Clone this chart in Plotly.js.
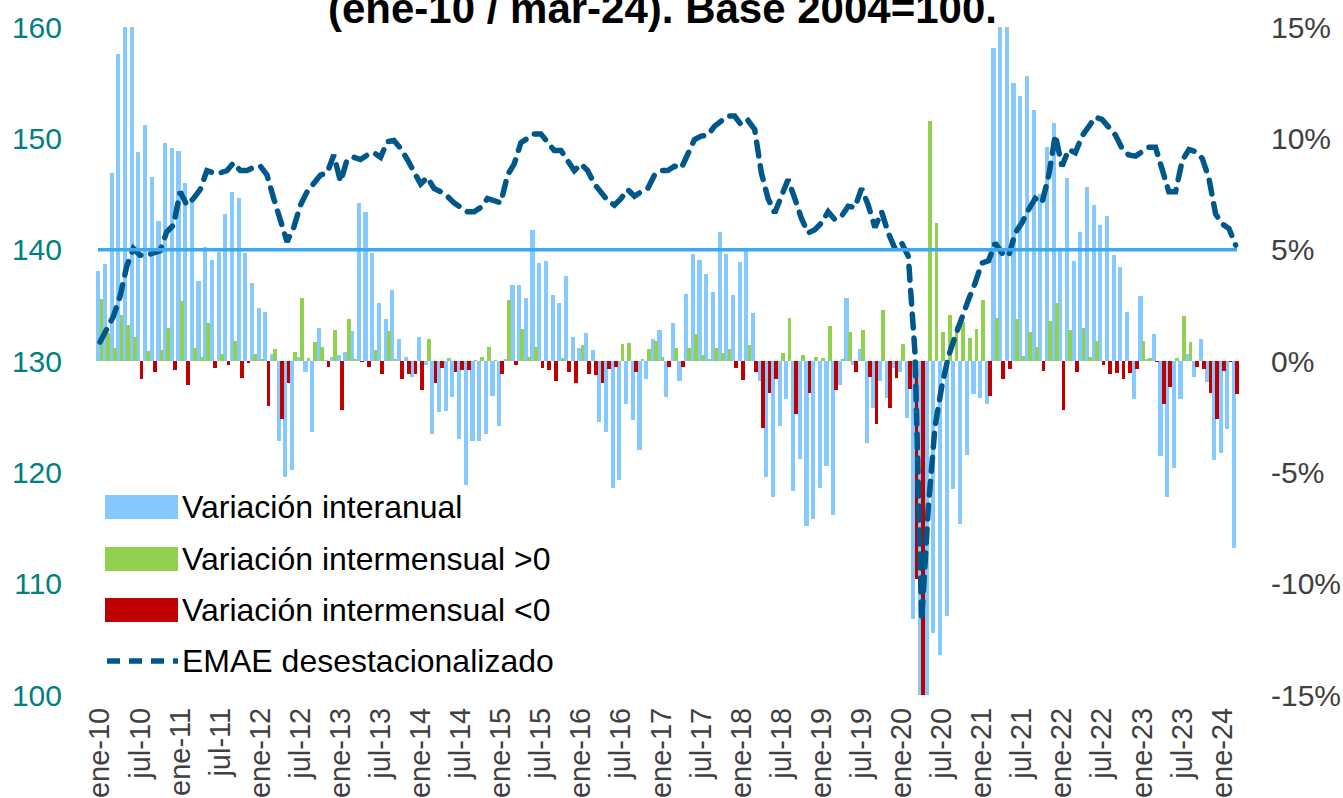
<!DOCTYPE html>
<html><head><meta charset="utf-8">
<script src="https://cdn.plot.ly/plotly-3.0.1.min.js"></script>
<style>
html,body{margin:0;padding:0;background:#fff;}
#chart{width:1343px;height:798px;}
#chart .scatterlayer .js-line{stroke-linecap:round;}
</style></head><body><div id="chart"></div>
<script>
// Variación interanual (%), ene-10 ... mar-24
const varInteranual = [
 4.06, 4.36, 8.46, 13.8, 17.0, 16.5, 9.4, 10.6, 8.26, 6.3,
 9.77, 9.57, 9.43, 8.0, 7.3, 3.6, 5.1, 4.55, 4.9, 6.6,
 7.6, 7.3, 4.85, 3.5, 2.36, 2.2, 0.3, -3.6, -5.2, -4.9,
 0.2, -0.5, -3.2, 1.5, 0.05, 0.2, 0.25, 0.4, 1.35, 7.1,
 6.7, 4.85, 2.6, 1.9, 3.2, 1.0, 0.2, -0.7, 1.1, -0.2,
 -3.3, -2.3, -2.25, -1.6, -3.5, -5.55, -3.6, -3.6, -3.3, -1.55,
 -2.9, 0.1, 3.4, 3.4, 2.85, 5.9, 4.4, 4.5, 2.95, 2.6,
 3.8, 1.1, 0.6, 1.25, 0.5, -2.75, -3.2, -5.7, -5.35, -1.95,
 -2.65, -4.0, -0.8, 1.0, 1.4, -1.6, 1.7, -0.9, 3.0, 4.8,
 4.55, 3.9, 3.1, 5.8, 4.8, 2.95, 4.45, 4.95, 2.15, -0.9,
 -5.2, -6.1, -2.9, -1.7, -5.85, -4.4, -7.4, -7.1, -5.7, -4.7,
 -6.9, -1.1, 2.85, -0.2, 0.55, -3.7, -2.1, -0.9, -1.65, -0.3,
 -0.5, -2.55, -11.6, -25.5, -20.5, -12.2, -13.2, -11.45, -5.76, -7.3,
 -4.2, -1.47, -1.65, -1.95, 14.07, 29.0, 15.5, 12.5, 11.9, 12.8,
 11.26, 7.5, 9.6, 10.7, 4.95, 8.2, 4.5, 5.8, 7.8, 7.0,
 6.1, 6.5, 4.75, 4.2, 2.2, -1.7, 2.9, 0.1, 1.2, -4.25,
 -6.1, -4.8, -1.7, 0.3, -0.72, 1.0, -0.95, -4.45, -4.12, -3.05, -8.4
];
// Variación intermensual (%)
const varIntermensual = [
 2.8, 1.27, 0.6, 2.05, 1.6, 1.1, -0.8, 0.45, -0.5, 0.5,
 1.5, -0.4, 2.7, -1.1, 0.6, 0.2, 1.7, -0.3, 0.3, -0.2,
 0.9, -0.75, -0.1, 0.3, 0.1, -2.0, 0.55, -2.6, -1.0, 0.4,
 2.85, 0.15, 0.85, 0.65, -0.25, 1.4, -2.2, 1.9, 0.1, -0.05,
 -0.25, 0.5, -0.6, 1.35, 0.1, -0.8, -0.6, -0.6, -1.3, 0.97,
 -1.0, -0.33, 0.15, -0.5, -0.4, -0.4, 0.05, 0.2, 0.65, 0.05,
 -0.6, 2.75, -0.2, 1.45, 0.2, 0.65, -0.3, -0.4, -0.9, 0.15,
 -0.5, -1.0, 0.7, -0.6, -0.65, -1.0, -0.35, -0.25, 0.75, 0.8,
 -0.5, 0.1, 0.55, 0.9, 0.2, -0.25, 0.6, -0.25, 0.6, 1.2,
 0.25, 0.1, 0.6, 0.35, 0.55, -0.3, -0.85, 0.7, -0.5, -3.0,
 -1.45, -0.8, 0.35, 1.95, -2.4, 0.25, -1.45, 0.2, 0.15, 1.55,
 -1.3, 0.1, 1.3, -0.5, 1.4, -0.7, -2.85, 2.3, -2.1, -0.75,
 0.75, -1.27, -9.8, -17.0, 10.8, 6.2, 1.3, 2.05, 1.57, 1.75,
 1.05, 1.42, 2.74, -1.57, 1.95, -0.82, -0.37, 1.9, 0.22, 1.3,
 0.64, -0.45, 1.8, 2.6, -2.2, 1.38, -0.5, 1.47, 0.18, 0.9,
 -0.2, -0.6, -0.55, -0.8, -0.52, -0.35, 0.88, 0.13, -0.05, -1.95,
 -1.15, 0.13, 2.0, 0.85, -0.28, -0.37, -1.42, -2.62, -0.47, -0.05, -1.47
];
// EMAE desestacionalizado (Base 2004=100)
const emaeDesest = [
 131.7, 132.9, 134.0, 135.8, 138.5, 140.1, 139.5, 139.5, 139.7, 139.9,
 141.6, 142.2, 145.2, 144.0, 144.6, 145.4, 147.1, 146.9, 146.9, 147.1,
 147.8, 147.1, 147.1, 147.4, 147.5, 146.7, 144.6, 142.8, 140.7, 142.0,
 144.0, 145.2, 145.9, 146.7, 146.9, 148.5, 146.1, 148.1, 148.3, 148.1,
 148.5, 148.7, 148.3, 149.7, 149.8, 149.1, 148.1, 147.1, 145.9, 146.5,
 145.5, 145.2, 144.8, 144.2, 143.8, 143.4, 143.4, 143.8, 144.6, 144.4,
 144.2, 146.7, 147.7, 149.6, 150.0, 150.4, 150.4, 149.6, 148.9, 148.9,
 147.9, 147.1, 147.7, 147.1, 145.9, 145.2, 144.4, 144.0, 144.6, 145.4,
 144.8, 145.2, 145.5, 146.7, 147.1, 147.1, 147.5, 147.3, 148.5, 149.9,
 150.2, 150.3, 151.1, 151.6, 152.0, 152.0, 151.2, 151.6, 150.8, 146.9,
 144.6, 143.3, 144.8, 146.3, 144.6, 142.8, 141.5, 141.8, 142.4, 143.4,
 142.7, 143.0, 143.9, 143.8, 145.5, 144.0, 142.0, 143.4, 141.5, 140.1,
 140.6, 139.4, 130.7, 106.7, 116.9, 124.1, 127.7, 130.4, 132.2, 134.0,
 135.5, 137.0, 138.8, 139.0, 140.6, 139.7, 139.4, 141.5, 142.4, 143.6,
 144.6, 144.2, 146.6, 150.3, 147.5, 149.0, 148.7, 150.2, 151.1, 151.9,
 151.7, 150.9, 150.3, 149.1, 148.5, 148.4, 148.8, 149.2, 149.2, 147.2,
 145.2, 145.2, 148.0, 149.0, 148.8, 148.2, 146.4, 143.2, 142.3, 141.9, 140.4
];
const tickLabels = ['ene-10','jul-10','ene-11','jul-11','ene-12','jul-12','ene-13','jul-13',
 'ene-14','jul-14','ene-15','jul-15','ene-16','jul-16','ene-17','jul-17','ene-18','jul-18',
 'ene-19','jul-19','ene-20','jul-20','ene-21','jul-21','ene-22','jul-22','ene-23','jul-23','ene-24'];
const pctTickVals = [-15, -10, -5, 0, 5, 10, 15];
const pctTickText = ['-15%', '-10%', '-5%', '0%', '5%', '10%', '15%'];
const levelTickVals = [100, 110, 120, 130, 140, 150, 160];
const referenceLevel = 140;
const seriesNames = ['Variación interanual', 'Variación intermensual >0', 'Variación intermensual <0', 'EMAE desestacionalizado'];
const titleText = '(ene-10 / mar-24). Base 2004=100.';

const C_BLUE = '#86C9FF', C_GREEN = '#92D050', C_RED = '#C00000', C_LINE = '#00578A', C_REF = '#3AA8F2';
const FONT = 'Arial, "Liberation Sans", sans-serif';
const W = 1343, H = 798, L = 95, R = 103, T = 27, B = 103;
const pw = W - L - R, ph = H - T - B;
const px = x => (x - L) / pw;
const py = y => (H - B - y) / ph;

const idx = varInteranual.map((_, i) => i);
const tickVals = tickLabels.map((_, k) => k * 6);
const posMensual = varIntermensual.map(v => v > 0 ? v : null);
const negMensual = varIntermensual.map(v => v < 0 ? v : null);

const traces = [
  {type: 'bar', x: idx, y: varInteranual, yaxis: 'y', name: seriesNames[0],
   marker: {color: C_BLUE, line: {width: 0}}, width: 0.62, offset: -0.56, hoverinfo: 'skip'},
  {type: 'bar', x: idx, y: posMensual, yaxis: 'y', name: seriesNames[1],
   marker: {color: C_GREEN, line: {width: 0}}, width: 0.56, offset: -0.06, hoverinfo: 'skip'},
  {type: 'bar', x: idx, y: negMensual, yaxis: 'y', name: seriesNames[2],
   marker: {color: C_RED, line: {width: 0}}, width: 0.56, offset: -0.06, hoverinfo: 'skip'},
  {type: 'scatter', mode: 'lines', x: idx, y: emaeDesest, yaxis: 'y2', name: seriesNames[3],
   line: {color: C_LINE, width: 5.5, dash: '14px,10px'}, hoverinfo: 'skip'}
];

// custom legend
const legRows = [507, 559, 610, 661];
const shapes = [
  {type: 'line', xref: 'x', yref: 'y2', x0: -0.3, x1: 170.2, y0: referenceLevel, y1: referenceLevel,
   line: {color: C_REF, width: 3.5}, layer: 'above'},
  {type: 'rect', xref: 'paper', yref: 'paper', x0: px(105), x1: px(178), y0: py(legRows[0] + 12), y1: py(legRows[0] - 12),
   fillcolor: C_BLUE, line: {width: 0}},
  {type: 'rect', xref: 'paper', yref: 'paper', x0: px(105), x1: px(178), y0: py(legRows[1] + 12), y1: py(legRows[1] - 12),
   fillcolor: C_GREEN, line: {width: 0}},
  {type: 'rect', xref: 'paper', yref: 'paper', x0: px(105), x1: px(178), y0: py(legRows[2] + 12), y1: py(legRows[2] - 12),
   fillcolor: C_RED, line: {width: 0}},
  {type: 'line', xref: 'paper', yref: 'paper', x0: px(107), x1: px(178), y0: py(legRows[3]), y1: py(legRows[3]),
   line: {color: C_LINE, width: 5.5, dash: '13px,9px'}}
];
const annotations = seriesNames.map((t, k) => ({
  xref: 'paper', yref: 'paper', x: px(180), y: py(legRows[k]), xanchor: 'left', yanchor: 'middle',
  text: t, showarrow: false, font: {family: FONT, size: 32, color: '#000'}
}));
annotations.push({xref: 'paper', yref: 'paper', x: px(662), y: py(34), xanchor: 'center', yanchor: 'bottom',
  text: '<b>' + titleText + '</b>', showarrow: false, font: {family: FONT, size: 42, color: '#000'}});

const layout = {
  width: W, height: H,
  margin: {l: L, r: R, t: T, b: B, pad: 0},
  paper_bgcolor: '#fff', plot_bgcolor: '#fff',
  showlegend: false, barmode: 'overlay', bargap: 0,
  font: {family: FONT, color: '#404040'},
  xaxis: {range: [-0.75, 170.65], tickmode: 'array', tickvals: tickVals, ticktext: tickLabels,
    tickangle: -90, tickfont: {family: FONT, size: 29, color: '#404040'}, showgrid: false, zeroline: false,
    showline: false, ticks: '', ticklabelstandoff: 6, fixedrange: true},
  yaxis: {range: [-15, 15], side: 'right', tickmode: 'array', tickvals: pctTickVals, ticktext: pctTickText,
    tickfont: {family: FONT, size: 30, color: '#404040'}, showgrid: false, zeroline: false, showline: false,
    ticks: '', ticklabelstandoff: 30},
  yaxis2: {range: [100, 160], overlaying: 'y', side: 'left', tickmode: 'array', tickvals: levelTickVals,
    tickfont: {family: FONT, size: 30, color: '#008080'}, showgrid: false, zeroline: false, showline: false,
    ticks: '', ticklabelstandoff: 32},
  shapes: shapes,
  annotations: annotations
};
Plotly.newPlot('chart', traces, layout, {staticPlot: true, displayModeBar: false});
</script></body></html>
